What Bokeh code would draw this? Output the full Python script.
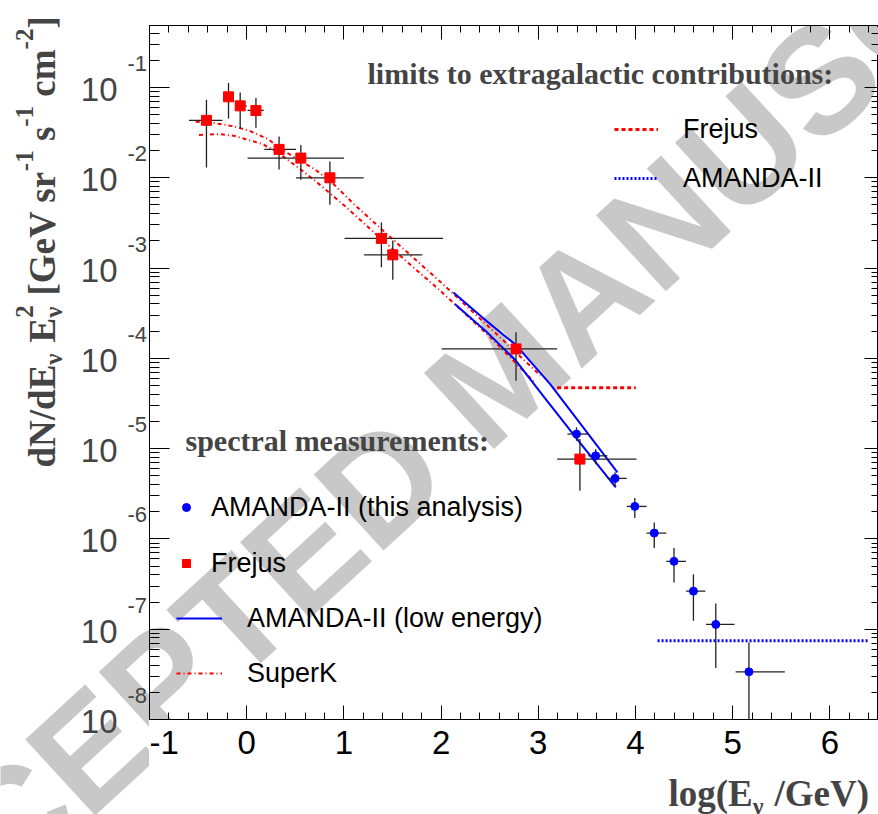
import math
from bokeh.plotting import figure
from bokeh.layouts import row, column
from bokeh.models import (Range1d, FixedTicker, LinearAxis, LogAxis, Label,
                          Legend, LegendItem, CustomJSTickFormatter)
from bokeh.embed import file_html
from bokeh.resources import INLINE

# ---------------- data ----------------
# Frejus spectral points: log10(E/GeV), E^2 dN/dE [GeV sr^-1 s^-1 cm^-2]
frejus_x = [-0.414, -0.187, -0.067, 0.095, 0.333, 0.557, 0.856, 1.386, 1.503, 2.771, 3.428]
frejus_x_lo = [-0.594, -0.236, -0.119, 0.009, 0.181, 0.009, 0.508, 1.007, 1.208, 2.006, 3.194]
frejus_x_hi = [-0.249, -0.132, 0.002, 0.175, 0.508, 1.001, 1.204, 2.020, 1.807, 3.194, 4.010]
frejus_y = [4.32e-2, 7.87e-2, 6.25e-2, 5.56e-2, 2.06e-2, 1.65e-2, 9.98e-3, 2.13e-3, 1.40e-3, 1.27e-4, 7.66e-6]
frejus_y_lo = [1.30e-2, 4.54e-2, 3.52e-2, 3.57e-2, 1.23e-2, 9.48e-3, 5.01e-3, 1.02e-3, 7.41e-4, 5.64e-5, 3.41e-6]
frejus_y_hi = [7.29e-2, 1.12e-1, 8.81e-2, 7.62e-2, 2.86e-2, 2.31e-2, 1.51e-2, 3.20e-3, 2.02e-3, 1.94e-4, 1.28e-5]

# AMANDA-II (this analysis) unfolded points
amanda_x = [3.393, 3.590, 3.790, 3.993, 4.193, 4.396, 4.596, 4.826, 5.167]
amanda_x_lo = [3.300, 3.514, 3.711, 3.910, 4.114, 4.317, 4.519, 4.726, 5.030]
amanda_x_hi = [3.514, 3.711, 3.910, 4.114, 4.317, 4.519, 4.719, 5.019, 5.536]
amanda_y = [1.45e-5, 8.32e-6, 4.68e-6, 2.29e-6, 1.16e-6, 5.64e-7, 2.64e-7, 1.13e-7, 3.37e-8]
amanda_y_lo = [1.22e-5, 6.73e-6, 3.86e-6, 1.70e-6, 7.91e-7, 3.30e-7, 1.24e-7, 3.71e-8, 1.0e-9]
amanda_y_hi = [1.72e-5, 9.86e-6, 5.48e-6, 2.83e-6, 1.52e-6, 7.91e-7, 4.07e-7, 1.93e-7, 7.14e-8]

# AMANDA-II (low energy) band
lowe_up_x = [2.127, 2.419, 2.771, 3.122, 3.452, 3.814]
lowe_up_y = [5.37e-4, 2.86e-4, 1.40e-4, 5.18e-5, 1.77e-5, 5.45e-6]
lowe_dn_x = [2.144, 2.461, 2.771, 3.060, 3.432, 3.797]
lowe_dn_y = [3.98e-4, 2.00e-4, 9.38e-5, 3.72e-5, 1.15e-5, 3.72e-6]

# SuperK band
superk_up_x = [-0.525, -0.336, -0.129, 0.043, 0.222, 0.353, 0.508, 0.697, 0.870, 1.110, 1.5, 2.0, 2.5, 3.02]
superk_up_y = [4.16e-2, 4.03e-2, 3.70e-2, 3.26e-2, 2.67e-2, 2.08e-2, 1.64e-2, 1.25e-2, 9.02e-3,
               5.01e-3, 2.09e-3, 6.92e-4, 2.19e-4, 6.46e-5]
superk_dn_x = [-0.491, -0.284, -0.129, -0.008, 0.164, 0.319, 0.457, 0.594, 0.767, 1.007, 1.5, 2.0, 2.5, 2.97]
superk_dn_y = [2.97e-2, 3.04e-2, 2.91e-2, 2.67e-2, 2.36e-2, 1.91e-2, 1.48e-2, 1.15e-2, 8.13e-3,
               4.89e-3, 1.62e-3, 5.50e-4, 1.74e-4, 5.31e-5]

# limits to extragalactic contributions
frejus_lim_x = [3.194, 4.003]
frejus_lim_y = [4.71e-5, 4.71e-5]
amanda_lim_x = [4.227, 6.397]
amanda_lim_y = [7.45e-8, 7.45e-8]

# axes
x_ticks = [-1, 0, 1, 2, 3, 4, 5, 6]
x_tick_labels = ["-1", "0", "1", "2", "3", "4", "5", "6"]
y_exponents = [-8, -7, -6, -5, -4, -3, -2, -1]
X_MIN, X_MAX = -1.0, 6.5
LOG_Y_MIN, LOG_Y_MAX = -8.0, -0.314

# ---------------- layout geometry (page pixels) ----------------
PAGE_W, PAGE_H = 878, 814
LEFT_W = 149                      # label column left of the frame
MAIN_W = PAGE_W - LEFT_W
MAIN_H = 770
BOTTOM_H = PAGE_H - MAIN_H
TOP_B, BOT_B = 25, 51
FRAME_BOTTOM = MAIN_H - BOT_B     # page y of the frame bottom
FRAME_H = FRAME_BOTTOM - TOP_B
PX_PER_DEC = FRAME_H / (LOG_Y_MAX - LOG_Y_MIN)

HFONT = "Liberation Serif"
SFONT = "Liberation Sans"
RED = "#ff0000"
BLUE = "#0000ff"
WM = dict(text="ACCEPTED MANUSCRIPT", angle=0.743, text_align="center", text_baseline="middle",
          text_font=SFONT, text_font_style="bold", text_font_size="150px",
          text_color="#c8c8c8", level="underlay", x_units="screen", y_units="screen")
WM_PAGE = (500, 372)   # watermark centre in page pixels


def bare(fig):
    fig.xgrid.visible = False
    fig.ygrid.visible = False
    fig.outline_line_color = None


# ---------------- main figure ----------------
p = figure(width=MAIN_W, height=MAIN_H, x_range=Range1d(X_MIN, X_MAX),
           y_range=Range1d(10 ** LOG_Y_MIN, 10 ** LOG_Y_MAX),
           y_axis_type="log", output_backend="svg", toolbar_location=None,
           min_border_left=0, min_border_right=0, min_border_top=TOP_B, min_border_bottom=BOT_B)
p.xgrid.visible = False
p.ygrid.visible = False
p.outline_line_color = "black"
p.outline_line_width = 1

x_minor = [round(-1 + 0.2 * k, 3) for k in range(0, 38) if k % 5 != 0]
y_major = [10.0 ** e for e in range(-8, 0)]
y_minor = [m * 10.0 ** e for e in range(-9, 0) for m in range(2, 10)]


def style_axis(ax, tin, mtin, labels=False):
    ax.major_tick_in = tin
    ax.major_tick_out = 0
    ax.minor_tick_in = mtin
    ax.minor_tick_out = 0
    ax.axis_line_color = "black"
    ax.major_tick_line_color = "black"
    ax.minor_tick_line_color = "black"
    if not labels:
        ax.formatter = CustomJSTickFormatter(code="return '';")
        ax.major_label_standoff = 0
        ax.major_label_text_font_size = "2px"


xax = p.xaxis[0]
xax.ticker = FixedTicker(ticks=x_ticks, minor_ticks=x_minor)
style_axis(xax, 14, 7, labels=True)
xax.major_label_overrides = {t: lab for t, lab in zip(x_ticks, x_tick_labels)}
xax.major_label_text_font = SFONT
xax.major_label_text_font_size = "33px"
xax.major_label_text_color = "black"
xax.major_label_standoff = 11

yax = p.yaxis[0]
yax.ticker = FixedTicker(ticks=y_major, minor_ticks=y_minor)
style_axis(yax, 20, 10)

top_ax = LinearAxis(ticker=FixedTicker(ticks=x_ticks, minor_ticks=x_minor))
style_axis(top_ax, 14, 7)
p.add_layout(top_ax, "above")
right_ax = LogAxis(ticker=FixedTicker(ticks=y_major, minor_ticks=y_minor))
style_axis(right_ax, 14, 7)
p.add_layout(right_ax, "right")

# watermark (frame-relative screen units)
p.add_layout(Label(x=WM_PAGE[0] - LEFT_W, y=FRAME_BOTTOM - WM_PAGE[1], **WM))

# data renderers
r_sk1 = p.line(superk_up_x, superk_up_y, line_color=RED, line_width=2, line_dash="4 3 1 3")
p.line(superk_dn_x, superk_dn_y, line_color=RED, line_width=2, line_dash="4 3 1 3")
r_le1 = p.line(lowe_up_x, lowe_up_y, line_color=BLUE, line_width=2)
p.line(lowe_dn_x, lowe_dn_y, line_color=BLUE, line_width=2)

r_flim = p.line(frejus_lim_x, frejus_lim_y, line_color=RED, line_width=3, line_dash="4 3")
r_alim = p.line(amanda_lim_x, amanda_lim_y, line_color=BLUE, line_width=3, line_dash="2 2")

ebar = dict(line_color="#222222", line_width=1.3)
p.segment(x0=frejus_x_lo, y0=frejus_y, x1=frejus_x_hi, y1=frejus_y, **ebar)
p.segment(x0=frejus_x, y0=frejus_y_lo, x1=frejus_x, y1=frejus_y_hi, **ebar)
p.segment(x0=amanda_x_lo, y0=amanda_y, x1=amanda_x_hi, y1=amanda_y, **ebar)
p.segment(x0=amanda_x, y0=amanda_y_lo, x1=amanda_x, y1=amanda_y_hi, **ebar)

r_fr = p.scatter(frejus_x, frejus_y, marker="square", size=10, fill_color=RED, line_color=RED)
r_am = p.scatter(amanda_x, amanda_y, marker="circle", size=8, fill_color=BLUE, line_color=BLUE)


def make_legend(items, loc, gw, standoff, spacing):
    lg = Legend(items=items, location=loc, orientation="vertical",
                glyph_width=gw, glyph_height=34, label_height=34,
                label_standoff=standoff, spacing=spacing, padding=0, margin=0,
                border_line_alpha=0, background_fill_alpha=0,
                label_text_font=SFONT, label_text_font_size="27px", label_text_color="black")
    p.add_layout(lg)


make_legend([LegendItem(label="Frejus", renderers=[r_flim]),
             LegendItem(label="AMANDA-II", renderers=[r_alim])], (465, 524), 44, 25, 15)
make_legend([LegendItem(label="AMANDA-II (this analysis)", renderers=[r_am]),
             LegendItem(label="Frejus", renderers=[r_fr])], (27, 139), 20, 15, 22)
make_legend([LegendItem(label="AMANDA-II (low energy)", renderers=[r_le1]),
             LegendItem(label="SuperK", renderers=[r_sk1])], (27, 29), 46, 25, 21)

p.add_layout(Label(x=218, y=646, x_units="screen", y_units="screen",
                   text="limits to extragalactic contributions:", text_font=HFONT,
                   text_font_style="bold", text_font_size="30px", text_baseline="middle"))
p.add_layout(Label(x=36, y=279, x_units="screen", y_units="screen",
                   text="spectral measurements:", text_font=HFONT,
                   text_font_style="bold", text_font_size="30px", text_baseline="middle"))

# ---------------- left column (full page height): y tick labels, y title ----------------
left_top = 10 ** (LOG_Y_MAX + TOP_B / PX_PER_DEC)
left_bot = 10 ** (LOG_Y_MIN - (PAGE_H - FRAME_BOTTOM) / PX_PER_DEC)
pl = figure(width=LEFT_W, height=PAGE_H, x_range=Range1d(0, LEFT_W),
            y_range=Range1d(left_bot, left_top), y_axis_type="log",
            x_axis_location=None, y_axis_location=None, output_backend="svg",
            toolbar_location=None, min_border=0)
bare(pl)
pl.add_layout(Label(x=WM_PAGE[0], y=PAGE_H - WM_PAGE[1], **WM))

for e in y_exponents:
    pl.add_layout(Label(x=117, y=10.0 ** e, y_offset=-2, text="10",
                        text_align="right", text_baseline="middle",
                        text_font=SFONT, text_font_size="33px"))
    pl.add_layout(Label(x=127, y=10.0 ** e, y_offset=24, text=str(e),
                        text_align="left", text_baseline="middle",
                        text_font=SFONT, text_font_size="22px"))


def piece(fig, text, x, y, size, angle=0.0):
    fig.add_layout(Label(x=x, y=y, x_units="screen", y_units="screen", text=text, angle=angle,
                         text_align="left", text_baseline="middle", text_font=HFONT,
                         text_font_style="bold", text_font_size=f"{size}px"))


MAIN, SMALL = 37, 25
ux = lambda units, size: units * size / 1000.0
SP = 250  # width of a space (Times units)
xm, xsub, xsup = 42, 53, 24
s = PAGE_H - 467.0
A = math.pi / 2
piece(pl, "dN/dE", xm, s, MAIN, A); s += ux(2779, MAIN)
piece(pl, "ν", xsub, s, SMALL, A); s += ux(520, SMALL) + ux(SP, MAIN)
piece(pl, "E", xm, s, MAIN, A); s += ux(667, MAIN)
piece(pl, "ν", xsub, s, SMALL, A)
piece(pl, "2", xsup, s, SMALL, A); s += ux(520, SMALL) + ux(SP, MAIN)
piece(pl, "[GeV sr", xm, s, MAIN, A); s += ux(3360, MAIN)
piece(pl, "-1", xsup, s, SMALL, A); s += ux(833, SMALL) + ux(SP, MAIN)
piece(pl, "s", xm, s, MAIN, A); s += ux(389, MAIN)
piece(pl, "-1", xsup, s, SMALL, A); s += ux(833, SMALL) + ux(SP, MAIN)
piece(pl, "cm", xm, s, MAIN, A); s += ux(1277, MAIN)
piece(pl, "-2", xsup, s, SMALL, A); s += ux(833, SMALL)
piece(pl, "]", xm, s, MAIN, A)

# ---------------- bottom strip (right of the label column): x title ----------------
pb = figure(width=MAIN_W, height=BOTTOM_H, x_range=Range1d(0, MAIN_W), y_range=Range1d(0, BOTTOM_H),
            x_axis_location=None, y_axis_location=None, output_backend="svg",
            toolbar_location=None, min_border=0)
bare(pb)
pb.add_layout(Label(x=WM_PAGE[0] - LEFT_W, y=PAGE_H - WM_PAGE[1], **WM))
XT = 37
sx = 668.0 - LEFT_W
piece(pb, "log(E", sx, PAGE_H - 793, XT); sx += ux(2278, XT)
piece(pb, "ν", sx, PAGE_H - 805, 24); sx += ux(520, 24) + ux(SP, XT)
piece(pb, "/GeV)", sx, PAGE_H - 793, XT)

layout = row(pl, column(p, pb, spacing=0), spacing=0)
open("out.html", "w").write(file_html(layout, INLINE))
